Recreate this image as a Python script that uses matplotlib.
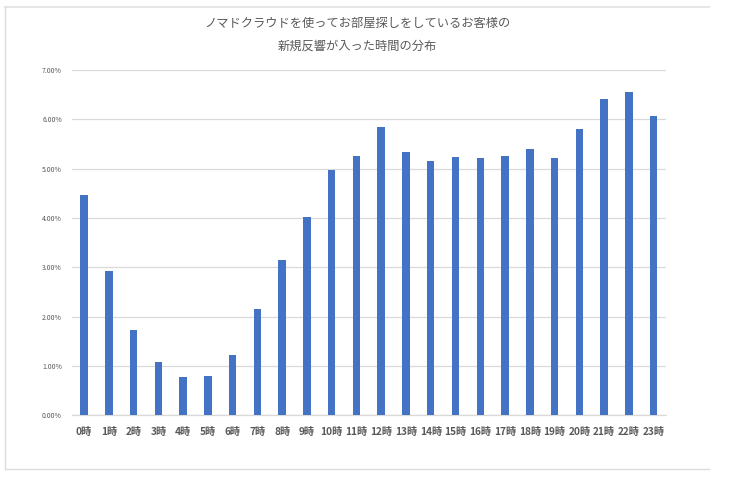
import matplotlib.pyplot as plt
from matplotlib.lines import Line2D
from matplotlib.ticker import PercentFormatter

plt.rcParams['font.family'] = ['Noto Sans CJK JP', 'DejaVu Sans']

# 時間帯ごとの新規反響の割合 (%)
hours = [f'{h}時' for h in range(24)]
share = [4.46, 2.93, 1.73, 1.08, 0.78, 0.80, 1.22, 2.15, 3.15, 4.03,
         4.98, 5.26, 5.84, 5.34, 5.16, 5.23, 5.22, 5.26, 5.39, 5.21,
         5.80, 6.41, 6.55, 6.07]
yticks = [0, 1, 2, 3, 4, 5, 6, 7]
title = 'ノマドクラウドを使ってお部屋探しをしているお客様の\n新規反響が入った時間の分布'

text_color = '#595959'
grid_color = '#d9d9d9'

fig = plt.figure(figsize=(7.3, 4.83), dpi=100)
ax = fig.add_axes([0.0982, 0.140, 0.8141, 0.715])

ax.bar(range(len(hours)), share, width=0.3, color='#4472C4', zorder=3)

ax.set_xlim(-0.5, len(hours) - 0.5)
ax.set_ylim(0, 7)
ax.set_yticks(yticks)
ax.yaxis.set_major_formatter(PercentFormatter(decimals=2))
ax.set_xticks(range(len(hours)))
ax.set_xticklabels(hours, fontsize=7.3, fontweight='bold', color=text_color)
ax.tick_params(axis='x', length=0, pad=8)
ax.tick_params(axis='y', length=0, pad=7, labelsize=5, labelcolor=text_color)

ax.grid(axis='y', color=grid_color, linewidth=0.9, zorder=0)
for side in ['top', 'right', 'left']:
    ax.spines[side].set_visible(False)
ax.spines['bottom'].set_color(grid_color)
ax.spines['bottom'].set_linewidth(0.9)

fig.text(0.49, 0.966, title, ha='center', va='top', fontsize=8.8,
         color=text_color, linespacing=2.0)

# 外枠 (上・左・下)
x0, x1 = 5 / 730, 709 / 730
y_top, y_bot = 1 - 7 / 483, 1 - 469 / 483
fig.add_artist(Line2D([x0, x1], [y_top, y_top], color='#e6e6e6', linewidth=1.5))
fig.add_artist(Line2D([x0, x1], [y_bot, y_bot], color='#dcdcdc', linewidth=1))
fig.add_artist(Line2D([x0, x0], [y_bot, y_top], color='#dcdcdc', linewidth=1))

fig.savefig('out.png', dpi=100)
